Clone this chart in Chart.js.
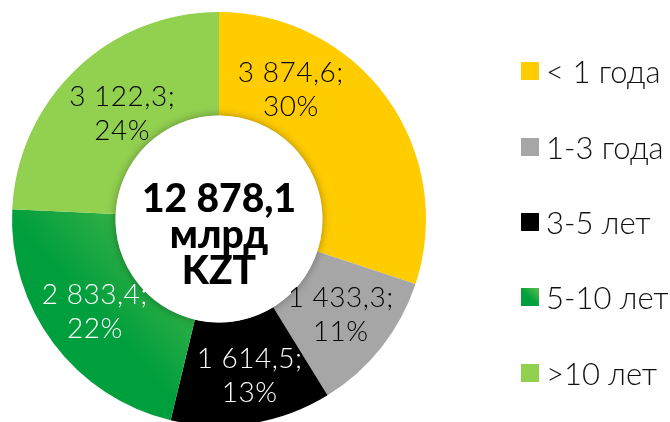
<!DOCTYPE html>
<html>
<head>
<meta charset="utf-8">
<script src="https://cdn.jsdelivr.net/npm/chart.js@4.4.1/dist/chart.umd.min.js"></script>
<style>
  html, body { margin: 0; padding: 0; background: #fff; overflow: hidden; }
  #wrap { position: relative; width: 670px; height: 440px; }
  #legend { position: absolute; left: 521px; top: 0; font-family: Lato, sans-serif; font-weight: 300; }
  .item { position: absolute; left: 0; height: 30px; display: flex; align-items: center; white-space: nowrap;
          font-size: 31px; color: #111; }
  .sw { width: 18px; height: 18px; margin-right: 7px; flex: none; }
</style>
</head>
<body>
<div id="wrap">
  <canvas id="myChart" width="670" height="440"></canvas>
  <div id="legend"></div>
</div>
<script>
// ===== データ =====
const categories = ['< 1 года', '1-3 года', '3-5 лет', '5-10 лет', '>10 лет'];
const amounts = [3874.6, 1433.3, 1614.5, 2833.4, 3122.3];
const percents = ['30%', '11%', '13%', '22%', '24%'];
const valueLabels = ['3 874,6;', '1 433,3;', '1 614,5;', '2 833,4;', '3 122,3;'];
const centerLines = ['12 878,1', 'млрд', 'KZT'];

const colors = ['#FFCC00', '#A6A6A6', '#000000', '#009F3D', '#92D050'];
const labelColors = ['#000', '#000', '#fff', '#fff', '#000'];

// ===== legend (HTML) =====
const legendTops = [56, 132, 207, 282, 358];
document.getElementById('legend').innerHTML = categories.map((c, i) => {
  const bg = i === 3 ? 'linear-gradient(225deg, #5cbf4c 0%, #009F3D 55%)' : colors[i];
  return `<div class="item" style="top:${legendTops[i]}px"><span class="sw" style="background:${bg}"></span>${c}</div>`;
}).join('');

// 5-10 лет の扇形だけグラデーション
function segColor(ctx) {
  const i = ctx.dataIndex;
  if (i !== 3) return colors[i];
  const area = ctx.chart.chartArea;
  if (!area) return colors[i];
  const cx = (area.left + area.right) / 2, cy = (area.top + area.bottom) / 2;
  const r = (area.right - area.left) / 2;
  const g = ctx.chart.ctx.createLinearGradient(cx - r * 0.1, cy + r * 0.1, cx - r * 0.55, cy + r * 0.5);
  g.addColorStop(0, '#4fb84a');
  g.addColorStop(1, '#009F3D');
  return g;
}

// ===== 中央の円とラベル =====
const ringLabels = {
  id: 'ringLabels',
  afterDatasetsDraw(chart, args, opts) {
    const { ctx } = chart;
    const arcs = chart.getDatasetMeta(0).data;
    const a0 = arcs[0];
    const cx = a0.x, cy = a0.y, inner = a0.innerRadius, outer = a0.outerRadius;

    // white hole with soft shadow
    ctx.save();
    ctx.beginPath();
    ctx.arc(cx, cy, inner, 0, Math.PI * 2);
    ctx.shadowColor = 'rgba(0,0,0,0.35)';
    ctx.shadowBlur = 9;
    ctx.fillStyle = '#fff';
    ctx.fill();
    ctx.restore();

    // center text
    ctx.save();
    ctx.fillStyle = '#000';
    ctx.textAlign = 'center';
    ctx.textBaseline = 'middle';
    ctx.font = '900 39px Lato, sans-serif';
    centerLines.forEach((t, k) => ctx.fillText(t, cx, cy - 20 + k * 36));
    ctx.restore();

    // segment labels
    ctx.save();
    ctx.textAlign = 'center';
    ctx.textBaseline = 'middle';
    ctx.font = '300 28px Lato, sans-serif';
    ctx.letterSpacing = '0.5px';
    arcs.forEach((arc, i) => {
      const mid = (arc.startAngle + arc.endAngle) / 2 + (opts.shift[i] || 0) * Math.PI / 180;
      const rr = (inner + outer) / 2 * opts.radius[i];
      const x = cx + Math.cos(mid) * rr;
      const y = cy + Math.sin(mid) * rr;
      ctx.fillStyle = labelColors[i];
      ctx.fillText(valueLabels[i], x, y - 17);
      ctx.fillText(percents[i], x, y + 17);
    });
    ctx.restore();
  }
};

new Chart(document.getElementById('myChart'), {
  type: 'doughnut',
  data: {
    labels: categories,
    datasets: [{
      data: amounts,
      backgroundColor: segColor,
      borderWidth: 0,
      hoverOffset: 0,
    }],
  },
  options: {
    responsive: false,
    animation: false,
    cutout: '50%',
    layout: { padding: { left: 12, top: 12, right: 244, bottom: 14 } },
    plugins: {
      legend: { display: false },
      tooltip: { enabled: false },
      ringLabels: { shift: [-25, 0, -2, 0, 1], radius: [0.95, 1.0, 1.03, 1.0, 0.92] },
    },
  },
  plugins: [ringLabels],
});
</script>
</body>
</html>
